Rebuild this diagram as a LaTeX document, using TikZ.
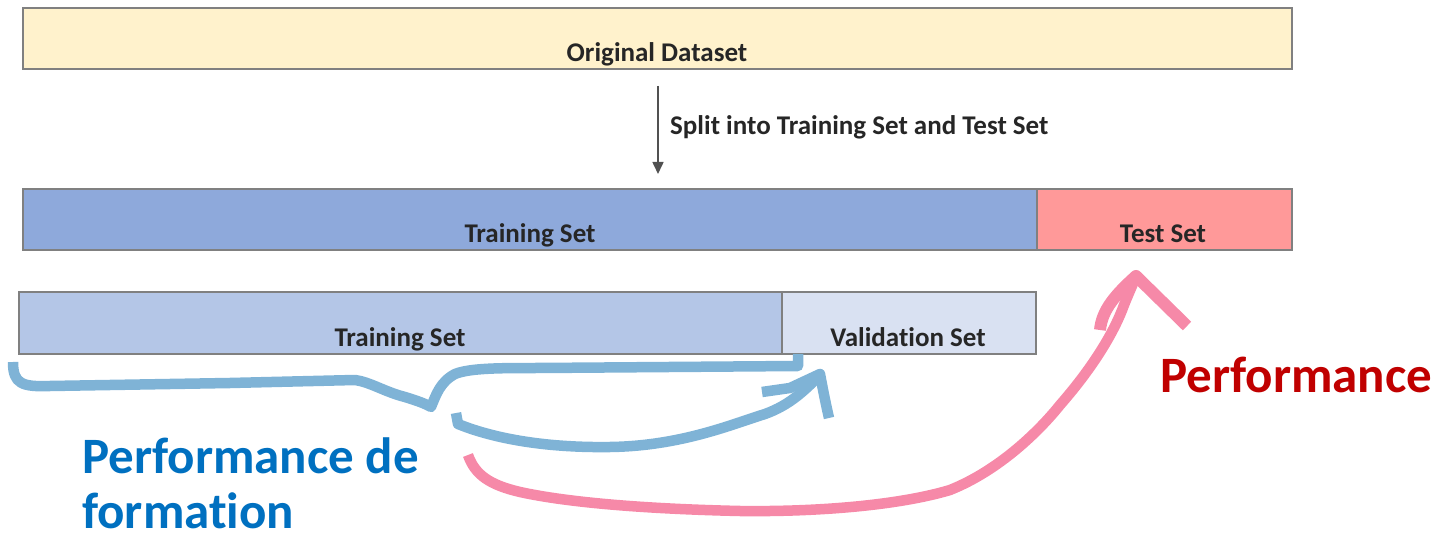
\documentclass[tikz,border=0pt]{standalone}
\usepackage{fontspec}
\setmainfont{Carlito}[Ligatures=NoCommon]
\usetikzlibrary{arrows.meta}

\definecolor{origfill}{HTML}{FFF2CC}
\definecolor{trainfill}{HTML}{8EA9DB}
\definecolor{testfill}{HTML}{FF9999}
\definecolor{subtrainfill}{HTML}{B4C6E7}
\definecolor{validfill}{HTML}{D9E1F2}
\definecolor{boxline}{HTML}{808080}
\definecolor{boxtext}{HTML}{262626}
\definecolor{penblue}{HTML}{7FB3D6}
\definecolor{penpink}{HTML}{F689A8}
\definecolor{perfblue}{HTML}{0070C0}
\definecolor{perfred}{HTML}{C00000}

\tikzset{
  setbox/.style={draw=boxline, line width=1.5pt, inner sep=0pt, outer sep=0pt},
  settext/.style={font=\fontsize{27}{30}\selectfont\bfseries, text=boxtext,
                  anchor=base, inner sep=0pt},
  splitarrow/.style={draw=boxtext!80, line width=1.6pt,
                     -{Triangle[length=12pt,width=11pt]}},
  pen/.style={line width=10.5pt, line cap=butt, line join=round},
  bluepen/.style={pen, draw=penblue},
  pinkpen/.style={pen, draw=penpink},
  bigtext/.style={font=\fontsize{51}{60}\selectfont\bfseries, inner sep=0pt,
                  anchor=base west}
}

\begin{document}
\begin{tikzpicture}[x=1pt, y=-1pt]
  \useasboundingbox (0,0) rectangle (1444,537);

  % dataset boxes
  \node[setbox, fill=origfill, minimum width=1269pt, minimum height=61pt]
       (orig) at (657.5,38.5) {};
  \node[setbox, fill=trainfill, minimum width=1014pt, minimum height=61pt]
       (train) at (530,219.5) {};
  \node[setbox, fill=testfill, minimum width=255pt, minimum height=61pt]
       (test) at (1164.5,219.5) {};
  \node[setbox, fill=subtrainfill, minimum width=763pt, minimum height=62pt]
       (subtrain) at (400.5,323) {};
  \node[setbox, fill=validfill, minimum width=254pt, minimum height=62pt]
       (valid) at (909,323) {};

  % box captions
  \node[settext] (origtxt)     at (657,62)   {Original Dataset};
  \node[settext] (traintxt)    at (530,243)  {Training Set};
  \node[settext] (testtxt)     at (1163,243) {Test Set};
  \node[settext] (subtraintxt) at (400,347)  {Training Set};
  \node[settext] (validtxt)    at (908,347)  {Validation Set};

  % split arrow
  \coordinate (splittop) at (658,86);
  \coordinate (splitbot) at (658,174);
  \draw[splitarrow] (splittop) -- (splitbot);
  \node[settext, anchor=base west] (splittxt) at (670,135)
       {Split into Training Set and Test Set};

  % brace under the training part
  \draw[bluepen] (13,362) .. controls (13,384) and (22,387) .. (50,386)
    -- (230,383) -- (355,380)
    .. controls (370,382) and (385,392) .. (405,397)
    .. controls (418,401) and (426,404) .. (431,407)
    .. controls (436,395) and (440,382) .. (455,374)
    .. controls (470,368) and (500,368) .. (540,368)
    -- (798,366) -- (798,354);

  % arrow towards the validation set
  \draw[bluepen] (456,413) -- (458,424)
    .. controls (490,437) and (540,448) .. (610,447)
    .. controls (680,446) and (730,425) .. (765,414)
    .. controls (790,405) and (805,390) .. (819,376);
  \draw[bluepen] (762,392) -- (790,388) -- (820,374)
    .. controls (823,390) and (826,405) .. (829,418);

  % arrow towards the test set
  \draw[pinkpen] (468,455)
    .. controls (475,475) and (490,485) .. (520,492)
    .. controls (570,503) and (650,509) .. (740,511)
    .. controls (820,512) and (900,505) .. (950,490)
    .. controls (1000,470) and (1040,430) .. (1060,405)
    .. controls (1095,365) and (1115,330) .. (1124,305)
    .. controls (1130,290) and (1134,282) .. (1136,276);
  \draw[pinkpen, line width=12pt] (1100,330)
    .. controls (1102,310) and (1115,295) .. (1136,276) -- (1187,326);

  % annotations
  \node[bigtext, text=perfblue] (trainperf) at (82,473) {Performance de};
  \node[bigtext, text=perfblue] (trainperf2) at (82,528) {formation};
  \node[bigtext, text=perfred] (testperf) at (1160,393) {Performance};
\end{tikzpicture}
\end{document}
